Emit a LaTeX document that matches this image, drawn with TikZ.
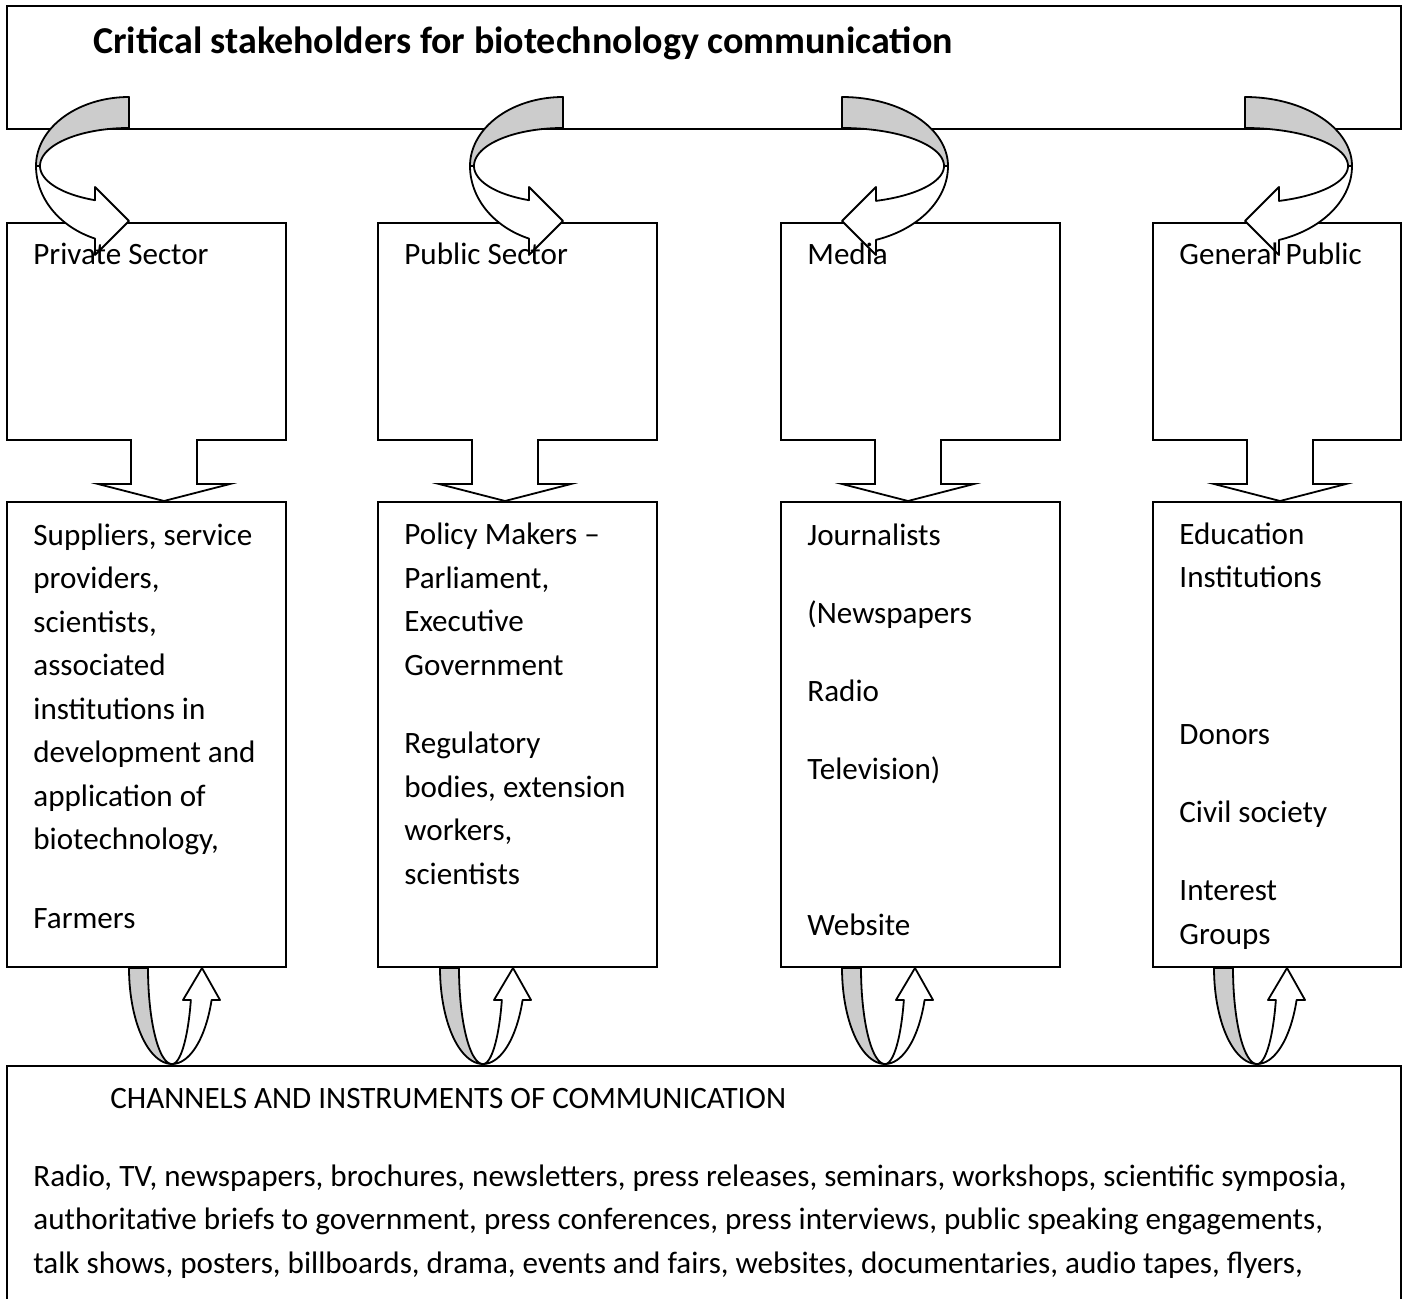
\documentclass[tikz,border=0pt]{standalone}
\usepackage{fontspec}
\setmainfont{Carlito}
\usetikzlibrary{positioning}

\colorlet{band shade}{black!20}
\tikzstyle{box} = [draw, line width=0.9pt, fill=white, anchor=north west, inner sep=0pt]
\tikzstyle{words} = [anchor=base west, inner sep=0pt, align=left, font=\fontsize{15.55pt}{21.75pt}\selectfont]
\tikzstyle{band front} = [fill=white, draw, line width=0.9pt, line join=round]
\tikzstyle{band back} = [fill=band shade, draw, line width=0.9pt, line join=round]
\tikzstyle{block} = [fill=white, draw, line width=0.9pt]

% curved ribbon from the heading into a stakeholder box
\newcommand{\turnarrow}[3]{%
  \begin{scope}[shift={(#1,0)}, xscale=#2]
    \pgfmathsetmacro\reachin{#3-4}
    \pgfmathsetmacro\bendout{acos(-34/#3)}
    \pgfmathsetmacro\bendin{acos(-34/\reachin)}
    \filldraw[band front] plot[variable=\t, samples=40, domain=180:\bendout] ({#3*cos(\t)},{166+78*sin(\t)})
      -- (-34,255) -- (0,221) -- (-34,187)
      -- plot[variable=\t, samples=40, domain=\bendin:180] ({\reachin*cos(\t)},{166+37*sin(\t)}) -- cycle;
    \filldraw[band back] plot[variable=\t, samples=40, domain=270:180] ({#3*cos(\t)},{166+69*sin(\t)})
      -- plot[variable=\t, samples=40, domain=180:270] ({\reachin*cos(\t)},{166+38*sin(\t)}) -- cycle;
  \end{scope}}

% u-turn between a stakeholder box and the channels box
\newcommand{\loopback}[1]{%
  \begin{scope}[shift={(#1,0)}]
    \filldraw[band front] plot[variable=\t, samples=30, domain=90:19.47] ({43+42*cos(\t)},{968+96*sin(\t)})
      -- (91,1000) -- (73,968) -- (54,1000)
      -- plot[variable=\t, samples=30, domain=19.47:90] ({43+20*cos(\t)},{968+96*sin(\t)}) -- cycle;
    \filldraw[band back] plot[variable=\t, samples=30, domain=180:90] ({43+43*cos(\t)},{968+96*sin(\t)})
      -- plot[variable=\t, samples=30, domain=90:180] ({43+24*cos(\t)},{968+96*sin(\t)}) -- cycle;
  \end{scope}}

\begin{document}
\begin{tikzpicture}[x=0.5pt, y=-0.5pt]
  \useasboundingbox (0,0) rectangle (1407,1299);

  % The heading and the channels
  \node[box, minimum width=697pt, minimum height=61.5pt] (head) at (6,5) {};
  \node[box, minimum width=697pt, minimum height=150pt] (channels) at (6,1065) {};

  % The stakeholders and who they stand for
  \foreach \x/\w/\name in {6/279/private, 377/279/public, 780/279/media, 1152/248/people} {
    \node[box, minimum width={\w*0.5pt}, minimum height=108.5pt] (\name) at (\x,222) {};
    \node[box, minimum width={\w*0.5pt}, minimum height=232.5pt] (\name-list) at (\x,501) {};
  }

  % Block arrows down
  \foreach \sx in {131, 472, 875, 1247}
    \filldraw[block] (\sx,439) -- (\sx,484) -- (\sx-33,484) -- (\sx+33,501)
      -- (\sx+99,484) -- (\sx+66,484) -- (\sx+66,439);

  % Ribbons from the heading
  \foreach \tail/\side/\reach in {129/1/93, 563/1/93, 842/-1/106, 1245/-1/107}
    \turnarrow{\tail}{\side}{\reach};

  % Ribbons to and from the channels
  \foreach \tail in {129, 440, 842, 1214}
    \loopback{\tail};

  % Texts (a many-line node sits on the baseline of its last line)
  \node[words, font=\bfseries\fontsize{19pt}{22pt}\selectfont] (title) at (93,54)
    {Critical stakeholders for biotechnology communication};
  \foreach \x/\name/\label in {33/private/Private Sector, 404/public/Public Sector, 807/media/Media, 1179/people/General Public}
    \node[words] (\name-name) at (\x,265) {\label};

  \node[words] (private-text) at (33,928) {Suppliers, service\\providers,\\scientists,\\associated\\institutions in\\development and\\application of\\biotechnology,\\[17.5pt]Farmers};
  \node[words] (public-text) at (404,884) {Policy Makers --\\Parliament,\\Executive\\Government\\[17.5pt]Regulatory\\bodies, extension\\workers,\\scientists};
  \node[words] (media-text) at (807,935) {Journalists\\[17.25pt](Newspapers\\[17.25pt]Radio\\[17.25pt]Television)\\[56.25pt]Website};
  \node[words] (people-text) at (1179,944) {Education\\Institutions\\[56.75pt]Donors\\[17.25pt]Civil society\\[17.25pt]Interest\\Groups};

  \node[words] (channels-title) at (110,1108) {CHANNELS AND INSTRUMENTS OF COMMUNICATION};
  \node[words] (channels-text) at (33,1273) {Radio, TV, newspapers, brochures, newsletters, press releases, seminars, workshops, scientific symposia,\\authoritative briefs to government, press conferences, press interviews, public speaking engagements,\\talk shows, posters, billboards, drama, events and fairs, websites, documentaries, audio tapes, flyers,};
\end{tikzpicture}
\end{document}
